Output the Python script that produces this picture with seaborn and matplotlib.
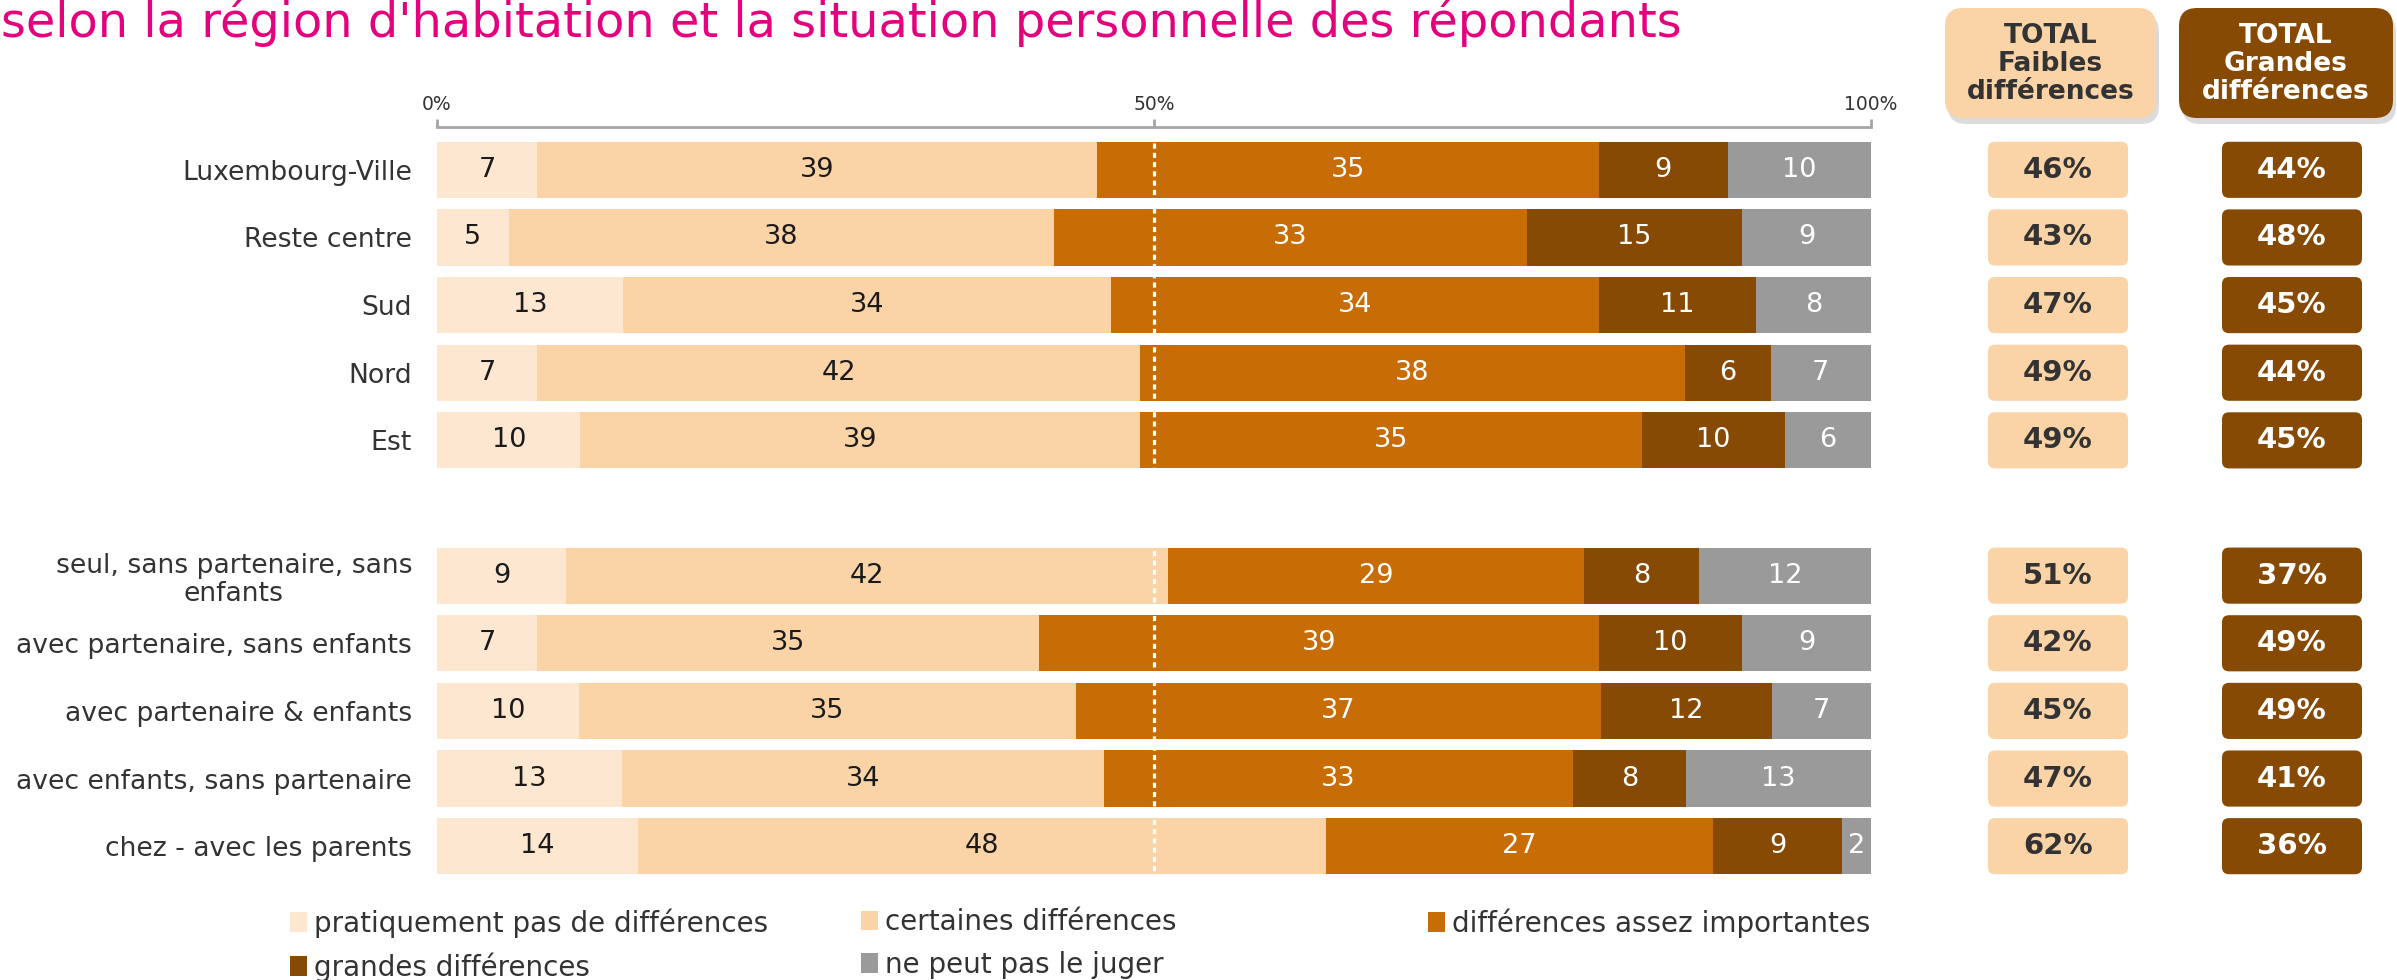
import numpy as np
import pandas as pd
import matplotlib
matplotlib.use("Agg")
import matplotlib.pyplot as plt
import seaborn as sns
from matplotlib.patches import FancyBboxPatch, Patch

# ---------------- data ----------------
categories = ["Luxembourg-Ville", "Reste centre", "Sud", "Nord", "Est",
              "seul, sans partenaire, sans\nenfants", "avec partenaire, sans enfants",
              "avec partenaire & enfants", "avec enfants, sans partenaire",
              "chez - avec les parents"]
series = ["pratiquement pas de différences", "certaines différences",
          "différences assez importantes", "grandes différences", "ne peut pas le juger"]
pratiquement = [7, 5, 13, 7, 10, 9, 7, 10, 13, 14]
certaines = [39, 38, 34, 42, 39, 42, 35, 35, 34, 48]
assez = [35, 33, 34, 38, 35, 29, 39, 37, 33, 27]
grandes = [9, 15, 11, 6, 10, 8, 10, 12, 8, 9]
ne_peut = [10, 9, 8, 7, 6, 12, 9, 7, 13, 2]
total_faibles = [46, 43, 47, 49, 49, 51, 42, 45, 47, 62]
total_grandes = [44, 48, 45, 44, 45, 37, 49, 49, 41, 36]
tick_values = [0, 50, 100]
tick_labels = ["0%", "50%", "100%"]
header_faibles = "TOTAL\nFaibles\ndifférences"
header_grandes = "TOTAL\nGrandes\ndifférences"
title = "selon la région d'habitation et la situation personnelle des répondants"

colors = ["#FDE7D1", "#FAD3A6", "#C86D05", "#874A04", "#9A9A9A"]
label_colors = ["#1A1A1A", "#1A1A1A", "white", "white", "white"]
TXT = "#333333"
MAGENTA = "#E5007D"

# ---------------- setup ----------------
sns.set_style("white")
plt.rcParams["font.family"] = ["DejaVu Sans"]

W, H = 2397, 980
fig = plt.figure(figsize=(W / 100, H / 100), dpi=100)

ax_left, ax_right = 437, 1871
ax_top, ax_bot = 136, 880
ax = fig.add_axes([ax_left / W, 1 - ax_bot / H, (ax_right - ax_left) / W, (ax_bot - ax_top) / H])

order = categories[:5] + [" "] + categories[5:]
px_per_row = (ax_bot - ax_top) / len(order)

vals = np.array([pratiquement, certaines, assez, grandes, ne_peut], dtype=float)
shares = vals / vals.sum(axis=0) * 100
cum = np.cumsum(shares, axis=0)

df = pd.DataFrame({"cat": categories})
for i in range(4, -1, -1):
    df[f"end{i}"] = cum[i]
    sns.barplot(data=df, x=f"end{i}", y="cat", order=order, orient="h",
                color=colors[i], saturation=1, width=0.83, errorbar=None,
                linewidth=0, ax=ax)

# value labels
for i in range(5):
    for j, cat in enumerate(categories):
        pos = order.index(cat)
        ax.text(cum[i][j] - shares[i][j] / 2, pos, str(int(vals[i][j])),
                ha="center", va="center", fontsize=19.5, color=label_colors[i], zorder=5)

ax.axvline(50, color="white", lw=2.3, ls=(0, (1.6, 1.3)), zorder=4)

ax.set_xlim(0, 100)
ax.set_ylim(len(order) - 0.5, -0.5)
ax.set_xlabel("")
ax.set_ylabel("")
ax.xaxis.tick_top()
ax.set_xticks(tick_values)
ax.set_xticklabels(tick_labels)
ax.tick_params(axis="x", direction="out", length=6, width=2, color="#A6A6A6", pad=3,
               labelsize=13.5, labelcolor=TXT, top=True, labeltop=True,
               bottom=False, labelbottom=False)
ax.tick_params(axis="y", length=0, pad=18, labelsize=19.2, labelcolor=TXT)
for lab in ax.get_yticklabels():
    if "\n" in lab.get_text():
        lab.set_multialignment("center")
        lab.set_linespacing(1.1)
for s in ["left", "right", "bottom"]:
    ax.spines[s].set_visible(False)
ax.spines["top"].set_position(("outward", 6.5))
ax.spines["top"].set_color("#A6A6A6")
ax.spines["top"].set_linewidth(2)
ax.grid(False)

# ---------------- totals columns ----------------
axt = fig.add_axes([1940 / W, 1 - ax_bot / H, (W - 1940) / W, (ax_bot - ax_top) / H], sharey=ax)
axt.set_xlim(1940, W)
axt.axis("off")
box_specs = [(1988, 140, total_faibles, colors[1], TXT),
             (2222, 140, total_grandes, colors[3], "white")]
for x0, bw, values, fc, tc in box_specs:
    for j, cat in enumerate(categories):
        pos = order.index(cat)
        p = FancyBboxPatch((x0, pos - 0.415), bw, 0.83,
                           boxstyle="round,pad=0,rounding_size=7",
                           mutation_aspect=1 / px_per_row, fc=fc, ec="none")
        axt.add_patch(p)
        axt.text(x0 + bw / 2, pos, f"{values[j]}%", ha="center", va="center",
                 fontsize=21, fontweight="bold", color=tc)
axt.set_ylim(len(order) - 0.5, -0.5)

# ---------------- headers ----------------
axh = fig.add_axes([0, 0, 1, 1], zorder=-1)
axh.set_xlim(0, W)
axh.set_ylim(H, 0)
axh.axis("off")
for (x0, x1, fc, tc, txt) in [(1945, 2156, colors[1], TXT, header_faibles),
                              (2179, 2393, colors[3], "white", header_grandes)]:
    sh = FancyBboxPatch((x0 + 3, 8 + 6), x1 - x0, 110,
                        boxstyle="round,pad=0,rounding_size=18", fc="#B0B0B0", ec="none", alpha=0.45)
    axh.add_patch(sh)
    bx = FancyBboxPatch((x0, 8), x1 - x0, 110,
                        boxstyle="round,pad=0,rounding_size=18", fc=fc, ec="none")
    axh.add_patch(bx)
    axh.text((x0 + x1) / 2, 64, txt, ha="center", va="center", fontsize=19,
             fontweight="bold", color=tc, linespacing=1.08)

# ---------------- title ----------------
fig.text(0.0005, 1 - 37 / H, title, fontsize=34.5, color=MAGENTA, ha="left", va="baseline")

# ---------------- legend ----------------
handles = [Patch(facecolor=c, edgecolor="none") for c in colors]
cols = [[0, 3], [1, 4], [2]]
xs = [290 / W, 861 / W, 1428 / W]
for idx, x in zip(cols, xs):
    fig.legend([handles[i] for i in idx], [series[i] for i in idx],
               loc="upper left", bbox_to_anchor=(x, 0.0733), frameon=False,
               fontsize=20, labelcolor=TXT, handlelength=0.6, handleheight=0.7,
               handletextpad=0.25, labelspacing=0.52, borderpad=0, borderaxespad=0)

fig.savefig("out.png", dpi=100, facecolor="white")
